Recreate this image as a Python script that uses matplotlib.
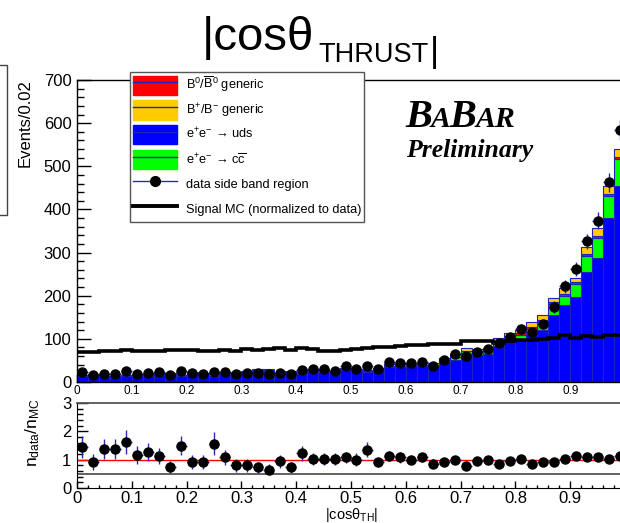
import numpy as np
import matplotlib
matplotlib.use('Agg')
import matplotlib.pyplot as plt
from matplotlib.patches import Patch, Rectangle
from matplotlib.lines import Line2D
from matplotlib.legend_handler import HandlerTuple
from matplotlib.ticker import MultipleLocator

plt.rcParams['font.family'] = ['Liberation Sans', 'DejaVu Sans']
plt.rcParams['mathtext.fontset'] = 'custom'
plt.rcParams['mathtext.rm'] = 'Liberation Sans'
plt.rcParams['mathtext.it'] = 'Liberation Sans:italic'
plt.rcParams['mathtext.bf'] = 'Liberation Sans:bold'

# ---------------- data ----------------
bin_width = 0.02
n_bins = 50

data_sideband = [24, 16, 19, 19, 26, 19, 22, 24, 16, 26,
                 21, 19, 24, 24, 19, 21, 21, 19, 21, 19,
                 28, 30, 30, 26, 36, 30, 38, 30, 47, 44,
                 44, 47, 38, 51, 65, 60, 70, 76, 90, 104,
                 123, 117, 135, 174, 222, 263, 326, 374, 463, 584]

mc_uds = [13, 14, 11, 11, 13, 13, 14, 17, 18, 14,
          19, 17, 12, 18, 20, 21, 24, 24, 18, 21,
          19, 24, 24, 21, 27, 25, 23, 27, 34, 34,
          36, 36, 36, 46, 52, 64, 62, 64, 84, 94,
          100, 112, 121, 156, 179, 198, 256, 288, 381, 454]

mc_ccbar = [1, 1, 1, 1, 1, 1, 1, 1, 1, 1,
            1, 1, 1, 1, 1, 2, 2, 2, 1, 2,
            1, 2, 2, 2, 2, 2, 2, 2, 3, 3,
            3, 3, 3, 4, 5, 7, 7, 7, 10, 10,
            10, 12, 19, 25, 21, 28, 35, 45, 49, 62]

mc_b0 = [1, 1, 1, 1, 1, 1, 1, 1, 1, 1,
         1, 1, 1, 1, 1, 1, 1, 1, 1, 1,
         1, 1, 1, 1, 1, 1, 1, 1, 1, 1,
         1, 1, 1, 2, 2, 2, 2, 2, 2, 3,
         3, 4, 4, 4, 5, 5, 6, 6, 5, 6]

mc_bpm = [2, 2, 1, 1, 1, 1, 2, 2, 2, 1,
          2, 2, 1, 2, 2, 2, 2, 2, 2, 2,
          2, 2, 2, 2, 3, 2, 2, 3, 4, 3,
          4, 4, 4, 4, 5, 6, 5, 5, 6, 6,
          7, 10, 12, 10, 13, 10, 15, 17, 20, 19]

signal_mc = [70, 70, 72, 72, 74, 73, 72, 72, 74, 74,
             74, 72, 72, 74, 72, 76, 74, 76, 78, 75,
             79, 77, 72, 71, 74, 76, 78, 82, 81, 84,
             86, 85, 88, 87, 89, 94, 94, 94, 90, 96,
             97, 98, 100, 103, 108, 102, 106, 105, 110, 108]

ratio = [1.45, 0.91, 1.38, 1.38, 1.61, 1.18, 1.26, 1.14, 0.74, 1.49,
         0.92, 0.92, 1.56, 1.08, 0.80, 0.80, 0.73, 0.65, 0.94, 0.73,
         1.22, 1.02, 1.02, 1.02, 1.08, 1.00, 1.35, 0.91, 1.12, 1.08,
         1.00, 1.08, 0.86, 0.92, 1.00, 0.76, 0.96, 1.00, 0.86, 0.96,
         1.04, 0.86, 0.91, 0.92, 1.04, 1.14, 1.09, 1.09, 1.04, 1.12]

ratio_err = [0.38, 0.28, 0.36, 0.36, 0.42, 0.32, 0.32, 0.28, 0.22, 0.34,
             0.24, 0.24, 0.40, 0.26, 0.22, 0.22, 0.20, 0.18, 0.24, 0.20,
             0.26, 0.22, 0.22, 0.22, 0.20, 0.22, 0.26, 0.18, 0.18, 0.18,
             0.17, 0.17, 0.16, 0.15, 0.14, 0.12, 0.13, 0.12, 0.10, 0.10,
             0.10, 0.09, 0.09, 0.08, 0.08, 0.07, 0.07, 0.06, 0.06, 0.05]

x_tick_labels = ['0', '0.1', '0.2', '0.3', '0.4', '0.5', '0.6', '0.7', '0.8', '0.9']

legend_labels = ['B$^{0}$/$\\overline{\\rm B}^{0}$ generic',
                 'B$^{+}$/B$^{-}$ generic',
                 'e$^{+}$e$^{-}$ → uds',
                 'e$^{+}$e$^{-}$ → c$\\overline{\\rm c}$',
                 'data side band region',
                 'Signal MC (normalized to data)']

# ---------------- styling ----------------
C_RED = '#ff0000'
C_YEL = '#ffcc00'
C_BLUE = '#0000ff'
C_GREEN = '#00ff00'
C_OUT = '#2222bb'
C_ERR = '#2a2ab8'

W, H = 620, 523
fig = plt.figure(figsize=(W / 100, H / 100), dpi=100)

def px_box(left, top, right, bottom):
    return [left / W, 1 - bottom / H, (right - left) / W, (bottom - top) / H]

ax = fig.add_axes(px_box(77, 80, 625, 382))
ax2 = fig.add_axes(px_box(77, 403, 625, 488))

edges = np.arange(n_bins + 1) * bin_width
centers = edges[:-1] + bin_width / 2

data_arr = np.array(data_sideband, dtype=float)
bottom = np.zeros(n_bins)
for vals, col in [(mc_uds, C_BLUE), (mc_ccbar, C_GREEN), (mc_b0, C_RED), (mc_bpm, C_YEL)]:
    v = np.array(vals, dtype=float)
    ax.bar(centers, v, width=bin_width, bottom=bottom, color=col,
           edgecolor=C_OUT, linewidth=0.8, zorder=2)
    bottom += v

ax.stairs(signal_mc, edges, color='black', linewidth=2.6, zorder=3, baseline=None)

ax.errorbar(centers, data_arr, yerr=np.sqrt(data_arr), xerr=bin_width / 2,
            fmt='o', color='black', ms=6.5, ecolor=C_ERR, elinewidth=1.0,
            capsize=0, zorder=4)

ax.set_xlim(0, 1)
ax.set_ylim(0, 700)
ax.set_axisbelow(True)
ax.yaxis.set_major_locator(MultipleLocator(100))
ax.yaxis.set_minor_locator(MultipleLocator(20))
ax.set_xticks(np.arange(10) * 0.1)
ax.set_xticklabels(x_tick_labels)
ax.xaxis.set_minor_locator(MultipleLocator(0.02))
ax.tick_params(axis='y', which='major', direction='in', length=10, width=1,
               labelsize=12, pad=4)
ax.tick_params(axis='y', which='minor', direction='in', length=5, width=1)
ax.tick_params(axis='x', which='major', direction='in', length=6, width=1,
               labelsize=8.5, pad=2)
ax.tick_params(axis='x', which='minor', direction='in', length=3, width=1)
for s in ax.spines.values():
    s.set_linewidth(1)

# ratio panel
ax2.axhline(1.0, color='red', lw=1.0, zorder=2)
ax2.axhline(0.5, color='#555555', lw=1.3, zorder=1)
ax2.errorbar(centers, ratio, yerr=ratio_err, xerr=bin_width / 2,
             fmt='o', color='black', ms=6.5, ecolor=C_ERR, elinewidth=1.0,
             capsize=0, zorder=4)
ax2.set_xlim(0, 1)
ax2.set_ylim(0, 3)
ax2.yaxis.set_major_locator(MultipleLocator(1))
ax2.yaxis.set_minor_locator(MultipleLocator(0.2))
ax2.set_xticks(np.arange(10) * 0.1)
ax2.set_xticklabels(x_tick_labels)
ax2.xaxis.set_minor_locator(MultipleLocator(0.02))
ax2.tick_params(axis='y', which='major', direction='in', length=8, width=1,
                labelsize=12, pad=4)
ax2.tick_params(axis='y', which='minor', direction='in', length=4, width=1)
ax2.tick_params(axis='x', which='major', direction='in', length=5, width=1,
                labelsize=12, pad=2)
ax2.tick_params(axis='x', which='minor', direction='in', length=2.5, width=1)
ax2.spines['top'].set_color('#555555')
ax2.spines['top'].set_linewidth(1.3)

# axis labels
fig.text(25 / W, 1 - 123 / H, 'Events/0.02', rotation=90, ha='center', va='center',
         fontsize=12)
fig.text(33 / W, 1 - 432 / H, 'n$_{\\rm data}$/n$_{\\rm MC}$', rotation=90,
         ha='center', va='center', fontsize=12.5)
fig.text(352 / W, 1 - 506 / H, '|cosθ$_{\\rm TH}$|', ha='center', va='top',
         fontsize=10.5)

# title
fig.text(202 / W, 1 - 50 / H, '|cosθ', ha='left', va='baseline', fontsize=34)
fig.text(318 / W, 1 - 62 / H, 'THRUST', ha='left', va='baseline', fontsize=19.5)
fig.text(430 / W, 1 - 62 / H, '|', ha='left', va='baseline', fontsize=25)

# BaBar logo
serif = dict(family='Liberation Serif', weight='bold', style='italic')
lx, ly = 405 / W, 1 - 127 / H
tb1 = fig.text(lx, ly, 'B', ha='left', va='baseline', fontsize=29, **serif)
tb2 = fig.text(0, 0, 'A', ha='left', va='baseline', fontsize=21.5, **serif)
tb3 = fig.text(0, 0, 'B', ha='left', va='baseline', fontsize=29, **serif)
tb4 = fig.text(0, 0, 'AR', ha='left', va='baseline', fontsize=21.5, **serif)
fig.text(406 / W, 1 - 157 / H, 'Preliminary', ha='left', va='baseline',
         fontsize=18.5, **serif)

fig.canvas.draw()
r = fig.canvas.get_renderer()
x = tb1.get_window_extent(r).x1
for t in (tb2, tb3, tb4):
    t.set_position(((x - 1) / W, ly))
    fig.canvas.draw()
    x = t.get_window_extent(r).x1

# legend
handles = [
    (Patch(facecolor=C_RED, edgecolor=C_RED), Line2D([], [], color=C_OUT, lw=1)),
    (Patch(facecolor=C_YEL, edgecolor=C_YEL), Line2D([], [], color=C_OUT, lw=1)),
    (Patch(facecolor=C_BLUE, edgecolor=C_BLUE), Line2D([], [], color=C_OUT, lw=1)),
    (Patch(facecolor=C_GREEN, edgecolor=C_GREEN), Line2D([], [], color=C_OUT, lw=1)),
    Line2D([], [], color=C_ERR, lw=1, marker='o', mfc='black', mec='black', ms=7),
    Line2D([], [], color='black', lw=2.8),
]
leg = fig.legend(handles, legend_labels, loc='upper left',
                 bbox_to_anchor=(130 / W, 1 - 72 / H), bbox_transform=fig.transFigure,
                 fontsize=9.2, frameon=True, fancybox=False, edgecolor='#555555',
                 framealpha=1, borderpad=0.25, borderaxespad=0, handlelength=3.4,
                 handleheight=1.95, labelspacing=0.42, handletextpad=0.7,
                 handler_map={tuple: HandlerTuple(ndivide=1, pad=0)})
leg.get_frame().set_linewidth(1.0)

# cropped box at left edge
fig.patches.append(Rectangle((-40 / W, 1 - 215 / H), 47 / W, 150 / H,
                             transform=fig.transFigure, fill=False,
                             edgecolor='#444444', lw=1))

fig.savefig('out.png', dpi=100)
